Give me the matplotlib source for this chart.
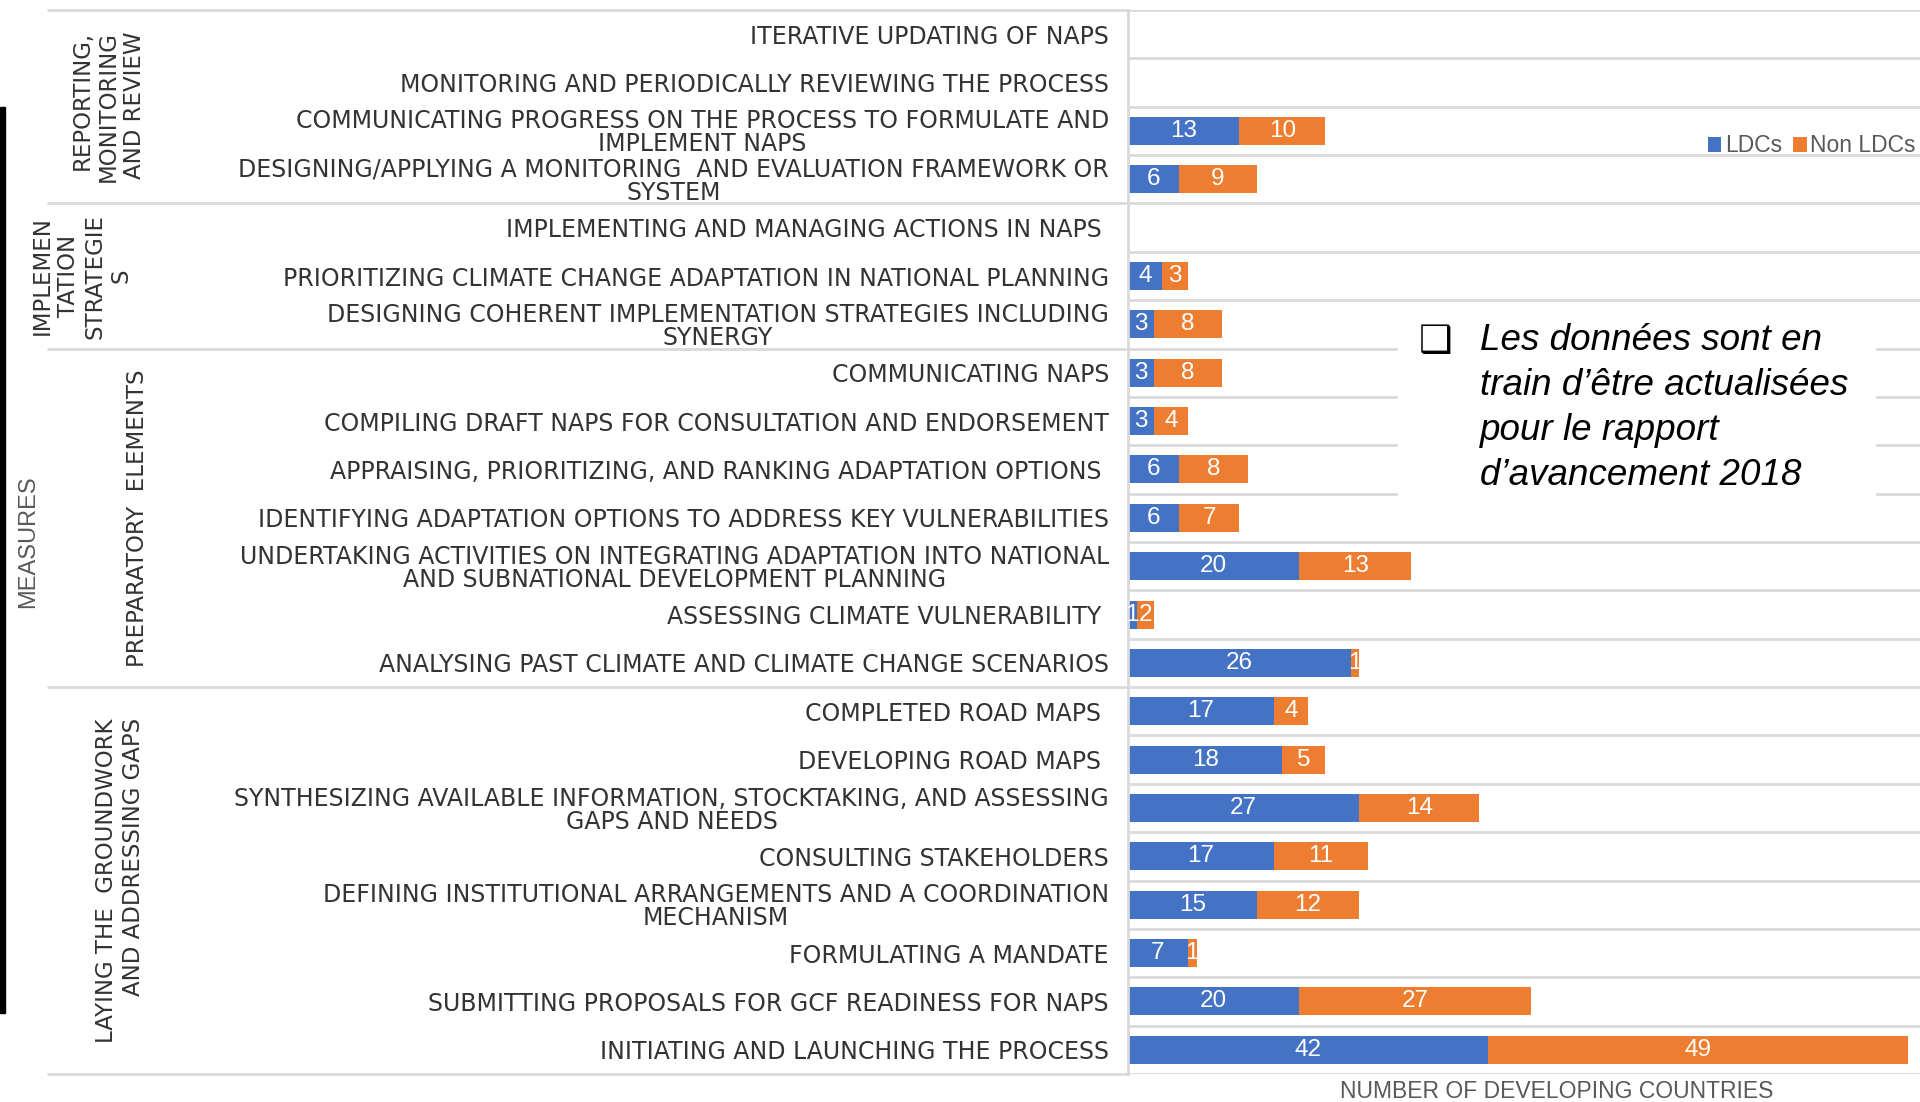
import numpy as np
import matplotlib
matplotlib.use("Agg")
import matplotlib.pyplot as plt
import matplotlib.transforms as mtransforms
from matplotlib.patches import Rectangle

# ── Data (top row first) ────────────────────────────────────────────────────
measures = [
    "ITERATIVE UPDATING OF NAPS",
    "MONITORING AND PERIODICALLY REVIEWING THE PROCESS",
    "COMMUNICATING PROGRESS ON THE PROCESS TO FORMULATE AND\nIMPLEMENT NAPS",
    "DESIGNING/APPLYING A MONITORING  AND EVALUATION FRAMEWORK OR\nSYSTEM",
    "IMPLEMENTING AND MANAGING ACTIONS IN NAPS ",
    "PRIORITIZING CLIMATE CHANGE ADAPTATION IN NATIONAL PLANNING",
    "DESIGNING COHERENT IMPLEMENTATION STRATEGIES INCLUDING\nSYNERGY",
    "COMMUNICATING NAPS",
    "COMPILING DRAFT NAPS FOR CONSULTATION AND ENDORSEMENT",
    "APPRAISING, PRIORITIZING, AND RANKING ADAPTATION OPTIONS ",
    "IDENTIFYING ADAPTATION OPTIONS TO ADDRESS KEY VULNERABILITIES",
    "UNDERTAKING ACTIVITIES ON INTEGRATING ADAPTATION INTO NATIONAL\nAND SUBNATIONAL DEVELOPMENT PLANNING",
    "ASSESSING CLIMATE VULNERABILITY ",
    "ANALYSING PAST CLIMATE AND CLIMATE CHANGE SCENARIOS",
    "COMPLETED ROAD MAPS ",
    "DEVELOPING ROAD MAPS ",
    "SYNTHESIZING AVAILABLE INFORMATION, STOCKTAKING, AND ASSESSING\nGAPS AND NEEDS",
    "CONSULTING STAKEHOLDERS",
    "DEFINING INSTITUTIONAL ARRANGEMENTS AND A COORDINATION\nMECHANISM",
    "FORMULATING A MANDATE",
    "SUBMITTING PROPOSALS FOR GCF READINESS FOR NAPS",
    "INITIATING AND LAUNCHING THE PROCESS",
]
ldcs     = [0, 0, 13, 6, 0, 4, 3, 3, 3, 6, 6, 20, 1, 26, 17, 18, 27, 17, 15, 7, 20, 42]
non_ldcs = [0, 0, 10, 9, 0, 3, 8, 8, 4, 8, 7, 13, 2, 1, 4, 5, 14, 11, 12, 1, 27, 49]

groups = [
    ("REPORTING,\nMONITORING\nAND REVIEW", 0, 3),
    ("IMPLEMEN\nTATION\nSTRATEGIE\nS", 4, 6),
    ("PREPARATORY  ELEMENTS", 7, 13),
    ("LAYING THE  GROUNDWORK\nAND ADDRESSING GAPS", 14, 21),
]
series_names = ["LDCs", "Non LDCs"]
note_lines = ["Les données sont en", "train d’être actualisées",
              "pour le rapport", "d’avancement 2018"]

BLUE, ORANGE = "#4472C4", "#ED7D31"
GRID = "#D9D9D9"
GREY = "#595959"
DARK = "#333333"
W, H = 1920, 1102

fig = plt.figure(figsize=(W / 100, H / 100), dpi=100)
ax = fig.add_axes([1128 / W, 1 - 1074 / H, 792 / W, 1064 / H])

y = np.arange(len(measures))
b1 = ax.barh(y, ldcs, height=0.58, color=BLUE, label=series_names[0], zorder=2)
b2 = ax.barh(y, non_ldcs, left=ldcs, height=0.58, color=ORANGE,
             label=series_names[1], zorder=2)
for bars, vals in [(b1, ldcs), (b2, non_ldcs)]:
    ax.bar_label(bars, labels=[str(v) if v else "" for v in vals],
                 label_type="center", color="white", fontsize=17.5,
                 family=["Liberation Sans", "DejaVu Sans"])

ax.set_xlim(0, 92.4)
ax.set_ylim(len(measures) - 0.5, -0.5)

# row gridlines in the plot area
bounds = np.arange(len(measures) + 1) - 0.5
ax.hlines(bounds, 0, 1, transform=ax.get_yaxis_transform(), color=GRID,
          lw=2, zorder=1)
# group separators run under the labels too
group_bounds = [groups[0][1] - 0.5] + [g[2] + 0.5 for g in groups]
ax.hlines(group_bounds, (47 - 1128) / 792, 0, transform=ax.get_yaxis_transform(),
          color=GRID, lw=2, clip_on=False, zorder=1)

for s in ["top", "right", "bottom"]:
    ax.spines[s].set_visible(False)
ax.spines["left"].set_color(GRID)
ax.spines["left"].set_linewidth(2)
ax.set_xticks([])
ax.set_yticks(y)
ax.set_yticklabels(measures, fontsize=17, color=DARK,
                   family="DejaVu Sans", linespacing=0.95)
for t in ax.get_yticklabels():
    t.set_multialignment("center")
ax.tick_params(axis="y", length=0, pad=13.7)

ax.set_xlabel("NUMBER OF DEVELOPING COUNTRIES", fontsize=16.5, color=GREY,
              family="Liberation Sans")
ax.xaxis.set_label_coords((1557 - 1128) / 792, -(1092 - 1074) / 1064)
ax.xaxis.label.set_va("center")

# group labels (rotated)
trans = mtransforms.blended_transform_factory(fig.transFigure, ax.transData)
group_x = [108, 82, 138, 120]
for (name, r0, r1), gx in zip(groups, group_x):
    ax.text(gx / W, (r0 + r1) / 2, name, transform=trans, rotation=90,
            ha="center", va="center",
            multialignment="center" if r0 == 4 else "right",
            fontsize=16.5, color=DARK, family="DejaVu Sans",
            linespacing=1.18, clip_on=False)

fig.text(28 / W, 1 - 542 / H, "MEASURES", rotation=90, ha="center", va="center",
         fontsize=17, color=GREY, family="Liberation Sans")

# black bar at far left
fig.patches.append(Rectangle((0, 1 - 1013 / H), 5 / W, (1013 - 107) / H,
                             transform=fig.transFigure, color="black", zorder=3))

fig.legend(handles=[b1, b2], labels=series_names, loc="center right",
           bbox_to_anchor=(1916 / W, 1 - 146 / H), ncol=2, frameon=False,
           handlelength=0.6, handleheight=0.6, handletextpad=0.15,
           columnspacing=0.5, borderaxespad=0, borderpad=0, labelcolor=GREY,
           prop={"family": "Liberation Sans", "size": 16.5})

# note box
fig.patches.append(Rectangle((1398 / W, 1 - 512 / H), 477 / W, 200 / H,
                             transform=fig.transFigure, color="white", zorder=3))
fig.text(1419 / W, 1 - 352 / H, "❑", ha="left", va="baseline", fontsize=27,
         color="black", family=["DejaVu Sans"], zorder=4)
for i, line in enumerate(note_lines):
    fig.text(1480 / W, 1 - (350 + 45 * i) / H, line, ha="left", va="baseline",
             fontsize=26.5, style="italic", color="black",
             family="Liberation Sans", zorder=4)

fig.savefig("out.png", dpi=100)
